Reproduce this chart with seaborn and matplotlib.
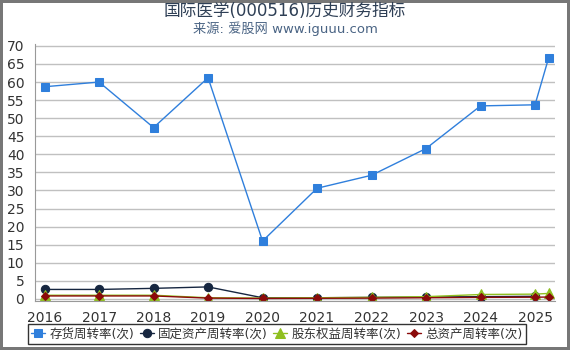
import numpy as np
import pandas as pd
import matplotlib
matplotlib.use("Agg")
import matplotlib.pyplot as plt
import seaborn as sns

sns.set_style("white")
plt.rcParams['font.family'] = ['DejaVu Sans', 'Noto Sans CJK SC']

years = [2016, 2017, 2018, 2019, 2020, 2021, 2022, 2023, 2024, 2025, 2025.25]
xticks = [2016, 2017, 2018, 2019, 2020, 2021, 2022, 2023, 2024, 2025]
inventory = [58.7, 60.0, 47.4, 61.2, 16.0, 30.6, 34.2, 41.6, 53.4, 53.7, 66.7]
fixed_assets = [2.6, 2.6, 2.9, 3.3, 0.3, 0.3, 0.4, 0.5, 0.6, 0.7, np.nan]
equity = [1.0, 1.0, 1.0, 0.3, 0.2, 0.3, 0.4, 0.6, 1.2, 1.3, 1.5]
total_assets = [0.8, 0.8, 0.8, 0.2, 0.1, 0.15, 0.2, 0.3, 0.4, 0.45, 0.5]

names = ['存货周转率(次)', '固定资产周转率(次)', '股东权益周转率(次)', '总资产周转率(次)']
series = [inventory, fixed_assets, equity, total_assets]
colors = ['#2f7fdc', '#162640', '#8fbf1f', '#8b0a0a']
markers = ['s', 'o', '^', 'D']
msizes = [6, 6, 7, 4]

fig = plt.figure(figsize=(5.7, 3.5), dpi=100)
fig.patch.set_edgecolor('#777777')
fig.patch.set_linewidth(3)
ax = fig.add_axes([0.061, 0.14, 0.913, 0.735])

for name, vals, c, m, s in zip(names, series, colors, markers, msizes):
    df = pd.DataFrame({'x': years, 'y': vals})
    sns.lineplot(data=df, x='x', y='y', ax=ax, color=c, marker=m, markersize=s,
                 markeredgecolor=c, linewidth=1.0, label=name)

ax.set_xlim(2015.82, 2025.37)
ax.set_ylim(-0.6, 70.6)
ax.set_yticks(range(0, 71, 5))
ax.set_xticks(xticks)
ax.set_xticklabels([str(t) for t in xticks])
ax.set_xlabel('')
ax.set_ylabel('')
ax.yaxis.grid(True, color='#c0c0c0', linewidth=1)
ax.xaxis.grid(False)
for sp in ['top', 'right']:
    ax.spines[sp].set_visible(False)
ax.spines['left'].set_color('#999999')
ax.spines['bottom'].set_color('#999999')
ax.tick_params(axis='both', labelsize=10, colors='#333333', length=4, width=0.8)
for t in ax.get_xticklines() + ax.get_yticklines():
    t.set_color('#999999')

leg = ax.legend(loc='upper center', bbox_to_anchor=(0.465, -0.088), ncol=4, frameon=True,
                fontsize=9, handlelength=1.1, handletextpad=0.35, columnspacing=0.45,
                borderpad=0.3, borderaxespad=0.0, fancybox=False)
leg.get_frame().set_edgecolor('black')
leg.get_frame().set_linewidth(1)
for txt in leg.get_texts():
    txt.set_color('#333333')

fig.text(0.5, 0.968, '国际医学(000516)历史财务指标', ha='center', va='center', fontsize=12, color='#2e3f55')
fig.text(0.5, 0.918, '来源: 爱股网 www.iguuu.com', ha='center', va='center', fontsize=9.5, color='#4a6484')

fig.savefig('out.png', dpi=100, edgecolor=fig.get_edgecolor())
